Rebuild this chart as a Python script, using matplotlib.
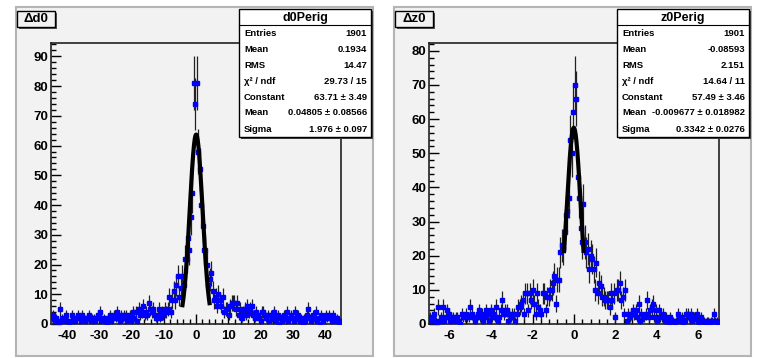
import numpy as np
import matplotlib
matplotlib.use('Agg')
import matplotlib.pyplot as plt
from matplotlib.patches import Rectangle

plt.rcParams['font.family'] = ['Liberation Sans', 'DejaVu Sans']
plt.rcParams['axes.unicode_minus'] = False

# d0 histogram: 200 bins on [-45, 45]
d0_range = (-45.0, 45.0)
d0_counts = [
    2, 3, 1, 2, 1, 0, 5, 2, 1, 2, 3, 1, 0, 1, 3, 2, 1, 2, 3, 2,
    1, 3, 2, 1, 2, 2, 3, 1, 2, 2, 1, 2, 3, 4, 2, 1, 2, 1, 0, 2,
    3, 1, 2, 3, 2, 4, 2, 1, 3, 2, 3, 3, 1, 2, 3, 1, 4, 2, 4, 1,
    5, 3, 4, 6, 3, 4, 3, 7, 5, 4, 5, 3, 2, 3, 5, 2, 4, 3, 5, 4,
    5, 9, 4, 8, 11, 8, 13, 16, 9, 12, 16, 13, 22, 22, 29, 25, 36, 44, 81, 74,
    81, 58, 52, 40, 33, 25, 25, 20, 13, 15, 17, 11, 8, 9, 6, 10, 8, 6, 9, 4,
    5, 5, 3, 6, 7, 7, 7, 5, 7, 3, 5, 2, 4, 5, 3, 6, 4, 5, 6, 3,
    2, 4, 3, 2, 1, 4, 4, 3, 2, 3, 1, 3, 2, 4, 2, 1, 3, 0, 2, 1,
    3, 2, 4, 1, 2, 3, 2, 1, 4, 2, 3, 1, 2, 0, 2, 1, 3, 5, 2, 1,
    3, 2, 4, 1, 2, 0, 3, 1, 2, 3, 2, 3, 2, 1, 3, 2, 1, 2, 0, 1,
]
d0_fit = {'const': 63.71, 'mean': 0.04805, 'sigma': 1.976, 'lo': -4.2, 'hi': 4.2}
d0_stats = [('Entries', '1901'), ('Mean', '0.1934'), ('RMS', '14.47'),
            ('χ² / ndf', '29.73 / 15'), ('Constant', '63.71 ± 3.49'),
            ('Mean', '0.04805 ± 0.08566'), ('Sigma', '1.976 ± 0.097')]

# z0 histogram: 200 bins on [-7, 7]
z0_range = (-7.0, 7.0)
z0_counts = [
    2, 1, 2, 3, 1, 0, 5, 1, 2, 5, 1, 2, 4, 3, 1, 2, 2, 1, 2, 2,
    1, 0, 3, 2, 2, 3, 2, 2, 5, 3, 2, 1, 2, 3, 4, 2, 3, 1, 2, 4,
    3, 1, 4, 2, 3, 2, 5, 1, 2, 4, 7, 3, 4, 4, 1, 3, 2, 3, 3, 1,
    3, 5, 5, 6, 7, 3, 9, 9, 4, 9, 7, 10, 6, 3, 9, 5, 4, 3, 9, 9,
    4, 8, 8, 10, 10, 12, 14, 6, 13, 13, 21, 23, 22, 27, 32, 33, 37, 54, 50, 62,
    70, 66, 43, 37, 28, 24, 35, 24, 21, 22, 16, 20, 19, 16, 10, 18, 9, 12, 11, 8,
    8, 7, 7, 7, 5, 9, 7, 9, 2, 10, 10, 12, 7, 8, 3, 10, 1, 3, 2, 3,
    4, 3, 4, 2, 6, 1, 3, 2, 2, 3, 7, 2, 4, 5, 6, 2, 4, 1, 4, 2,
    2, 3, 1, 2, 1, 0, 2, 1, 1, 0, 1, 3, 2, 1, 2, 0, 1, 3, 3, 2,
    3, 1, 2, 2, 3, 1, 0, 2, 1, 1, 0, 1, 1, 0, 1, 1, 3, 1, 1, 0,
]
z0_fit = {'const': 57.49, 'mean': -0.009677, 'sigma': 0.3342, 'lo': -0.48, 'hi': 0.46}
z0_stats = [('Entries', '1901'), ('Mean', '-0.08593'), ('RMS', '2.151'),
            ('χ² / ndf', '14.64 / 11'), ('Constant', '57.49 ± 3.46'),
            ('Mean', '-0.009677 ± 0.018982'), ('Sigma', '0.3342 ± 0.0276')]

W, H = 757, 358
fig = plt.figure(figsize=(W / 100, H / 100), dpi=100)
fig.patch.set_facecolor('white')
PAD = '#f2f2f2'


def px(x0, y0, x1, y1):
    return [x0 / W, 1 - y1 / H, (x1 - x0) / W, (y1 - y0) / H]


def box(x0, y0, x1, y1, **kw):
    r = Rectangle((x0 / W, 1 - y1 / H), (x1 - x0) / W, (y1 - y0) / H,
                  transform=fig.transFigure, **kw)
    fig.patches.append(r)


def panel(px0, counts, rng, fit, stats, name, title, xmaj, xmin_, ymax):
    # pad background with bevel
    box(px0, 7, px0 + 357, 356, facecolor=PAD, edgecolor='#b4b4b4', lw=1.5, zorder=-5)

    ax = fig.add_axes(px(px0 + 35, 43, px0 + 325, 324))
    ax.set_zorder(2)
    ax.set_facecolor(PAD)
    n = len(counts)
    edges = np.linspace(rng[0], rng[1], n + 1)
    centers = 0.5 * (edges[:-1] + edges[1:])
    vals = np.array(counts, dtype=float)
    ax.errorbar(centers, vals, yerr=np.sqrt(vals), fmt='s', ms=2.4,
                mfc='#0000ff', mec='#0000ff', ecolor='#222222', elinewidth=0.9,
                capsize=0, zorder=3)
    xf = np.linspace(fit['lo'], fit['hi'], 200)
    yf = fit['const'] * np.exp(-0.5 * ((xf - fit['mean']) / fit['sigma']) ** 2)
    ax.plot(xf, yf, color='black', lw=3, zorder=4)

    ax.set_xlim(rng)
    ax.set_ylim(0, ymax)
    ax.xaxis.set_major_locator(plt.MultipleLocator(xmaj))
    ax.xaxis.set_minor_locator(plt.MultipleLocator(xmin_))
    ax.yaxis.set_major_locator(plt.MultipleLocator(10))
    ax.yaxis.set_minor_locator(plt.MultipleLocator(2))
    ax.tick_params(which='both', direction='in', top=False, right=False,
                   labelsize=9.5, width=1, colors='black')
    ax.tick_params(which='major', length=7, pad=2)
    ax.tick_params(axis='x', which='major', pad=4)
    ax.tick_params(which='minor', length=3.5)
    for lab in ax.get_xticklabels() + ax.get_yticklabels():
        lab.set_fontweight('bold')
    for s in ax.spines.values():
        s.set_linewidth(1.2)
        s.set_color('#222222')

    # title box
    tx0, ty0, tx1, ty1 = px0 + 1, 11, px0 + 39, 27
    box(tx0 + 2, ty0 + 2, tx1 + 2, ty1 + 2, facecolor='#555555', edgecolor='none', zorder=5)
    box(tx0, ty0, tx1, ty1, facecolor=PAD, edgecolor='black', lw=1, zorder=6)
    fig.text((tx0 + tx1) / 2 / W, 1 - (ty0 + ty1) / 2 / H, title, ha='center', va='center',
             fontsize=9.5, fontweight='bold', zorder=7)

    # stats box
    sx0, sy0, sx1, sy1 = px0 + 223, 9, px0 + 355, 137
    box(sx0 + 2, sy0 + 2, sx1 + 2, sy1 + 2, facecolor='#444444', edgecolor='none', zorder=5)
    box(sx0, sy0, sx1, sy1, facecolor='white', edgecolor='black', lw=1, zorder=6)
    hdr = 16
    fig.lines.append(plt.Line2D([sx0 / W, sx1 / W], [1 - (sy0 + hdr) / H] * 2,
                                transform=fig.transFigure, color='black', lw=0.8, zorder=7))
    fig.text((sx0 + sx1) / 2 / W, 1 - (sy0 + hdr / 2 + 0.5) / H, name, ha='center', va='center',
             fontsize=9, fontweight='bold', zorder=7)
    rowh = (sy1 - sy0 - hdr) / len(stats)
    for k, (lab, val) in enumerate(stats):
        yc = 1 - (sy0 + hdr + rowh * (k + 0.5)) / H
        fig.text((sx0 + 5) / W, yc, lab, ha='left', va='center', fontsize=6.8,
                 fontweight='bold', zorder=7)
        fig.text((sx1 - 4) / W, yc, val, ha='right', va='center', fontsize=6.8,
                 fontweight='bold', zorder=7)
    return ax


panel(16, d0_counts, d0_range, d0_fit, d0_stats, 'd0Perig', 'Δd0', 10, 2, 94.5)
panel(394, z0_counts, z0_range, z0_fit, z0_stats, 'z0Perig', 'Δz0', 2, 0.4, 82.3)

fig.savefig('out.png', dpi=100, facecolor='white')
